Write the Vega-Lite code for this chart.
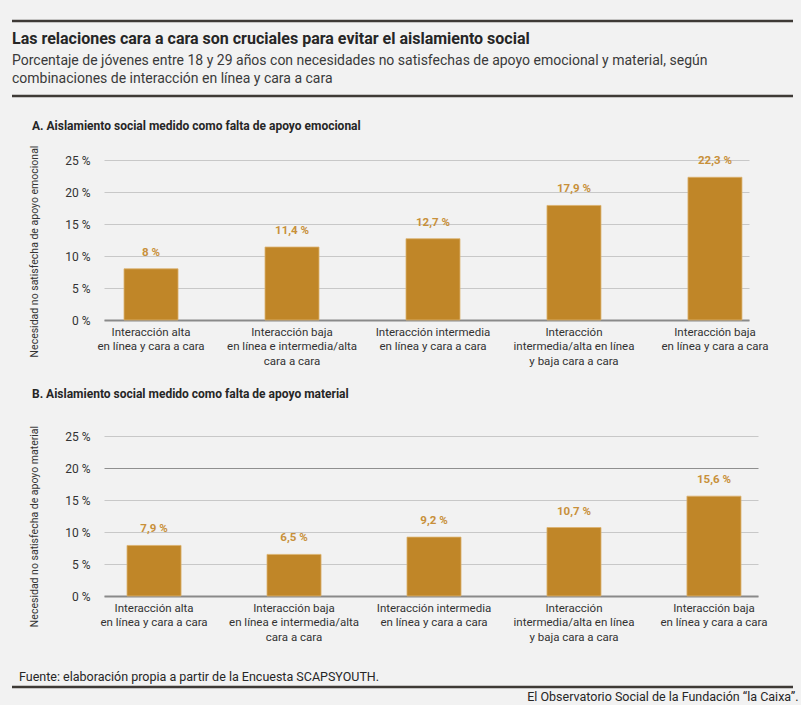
{
  "$schema": "https://vega.github.io/schema/vega-lite/v6.json",
  "background": "#f2f2f2",
  "padding": {"left": 10, "top": 19, "right": 5, "bottom": 2},
  "spacing": 21,
  "resolve": {
    "scale": {"x": "independent", "y": "independent"},
    "axis": {"x": "independent", "y": "independent"}
  },
  "config": {
    "view": {"stroke": null},
    "font": "Roboto",
    "title": {"anchor": "start", "frame": "group", "color": "#262626"},
    "axis": {"labelFont": "Roboto", "titleFont": "Roboto"}
  },
  "datasets": {
    "emocional": [
      {"interaccion": "Interacción alta\nen línea y cara a cara", "valor": 8, "etiqueta": "8 %"},
      {"interaccion": "Interacción baja\nen línea e intermedia/alta\ncara a cara", "valor": 11.4, "etiqueta": "11,4 %"},
      {"interaccion": "Interacción intermedia\nen línea y cara a cara", "valor": 12.7, "etiqueta": "12,7 %"},
      {"interaccion": "Interacción\nintermedia/alta en línea\ny baja cara a cara", "valor": 17.9, "etiqueta": "17,9 %"},
      {"interaccion": "Interacción baja\nen línea y cara a cara", "valor": 22.3, "etiqueta": "22,3 %"}
    ],
    "material": [
      {"interaccion": "Interacción alta\nen línea y cara a cara", "valor": 7.9, "etiqueta": "7,9 %"},
      {"interaccion": "Interacción baja\nen línea e intermedia/alta\ncara a cara", "valor": 6.5, "etiqueta": "6,5 %"},
      {"interaccion": "Interacción intermedia\nen línea y cara a cara", "valor": 9.2, "etiqueta": "9,2 %"},
      {"interaccion": "Interacción\nintermedia/alta en línea\ny baja cara a cara", "valor": 10.7, "etiqueta": "10,7 %"},
      {"interaccion": "Interacción baja\nen línea y cara a cara", "valor": 15.6, "etiqueta": "15,6 %"}
    ]
  },
  "vconcat": [
    {
      "width": 645,
      "height": 78,
      "data": {"values": [{"filete": 1}, {"filete": 0}]},
      "title": {
        "text": "Las relaciones cara a cara son cruciales para evitar el aislamiento social",
        "subtitle": [
          "Porcentaje de jóvenes entre 18 y 29 años con necesidades no satisfechas de apoyo emocional y material, según",
          "combinaciones de interacción en línea y cara a cara"
        ],
        "fontSize": 16,
        "fontWeight": "bold",
        "subtitleFontSize": 14,
        "subtitleColor": "#3a3a3a",
        "subtitlePadding": 7,
        "subtitleLineHeight": 18,
        "dx": -92,
        "offset": -66
      },
      "mark": {"type": "rule", "color": "#3e3a36", "strokeWidth": 2.5, "clip": false},
      "encoding": {
        "x": {"datum": 0, "type": "quantitative", "scale": {"domain": [0, 1], "range": [-92, 689]}, "axis": null},
        "x2": {"datum": 1},
        "y": {"field": "filete", "type": "quantitative", "scale": {"domain": [-0.04, 1]}, "axis": null}
      }
    },
    {
      "width": 645,
      "height": 160,
      "data": {"name": "emocional"},
      "title": {
        "text": "A. Aislamiento social medido como falta de apoyo emocional",
        "fontSize": 12,
        "fontWeight": "bold",
        "dx": -72,
        "offset": 12
      },
      "encoding": {
        "x": {
          "field": "interaccion",
          "type": "nominal",
          "sort": null,
          "scale": {"paddingInner": 0.617, "paddingOuter": 0.096, "align": 0.74},
          "axis": {
            "title": null,
            "labelAngle": 0,
            "labelExpr": "split(datum.label, '\\n')",
            "labelFontSize": 11.5,
            "labelColor": "#333333",
            "labelLineHeight": 14.5,
            "labelPadding": 6,
            "labelBaseline": "top",
            "ticks": false,
            "domainColor": "#8a8a8a",
            "domainWidth": 2
          }
        },
        "y": {
          "field": "valor",
          "type": "quantitative",
          "scale": {"domain": [0, 25]},
          "axis": {
            "title": "Necesidad no satisfecha de apoyo emocional",
            "values": [0, 5, 10, 15, 20, 25],
            "labelExpr": "datum.value + ' %'",
            "domain": false,
            "ticks": false,
            "labelPadding": 14,
            "labelFontSize": 12,
            "labelColor": "#333333",
            "gridColor": "#c8c8c8",
            "titleFontSize": 10.5,
            "titleFontWeight": "normal",
            "titleColor": "#333333",
            "titlePadding": 25,
            "titleY": 91
          }
        }
      },
      "layer": [
        {"mark": {"type": "bar", "color": "#c08628", "stroke": "#dcb26e", "strokeWidth": 0.8}},
        {
          "mark": {"type": "text", "fontWeight": "bold", "fontSize": 11.5, "color": "#c8903a", "baseline": "middle", "dy": -16},
          "encoding": {"text": {"field": "etiqueta"}}
        }
      ]
    },
    {
      "width": 654,
      "height": 160,
      "data": {"name": "material"},
      "title": {
        "text": "B. Aislamiento social medido como falta de apoyo material",
        "fontSize": 12,
        "fontWeight": "bold",
        "dx": -72,
        "offset": 24
      },
      "encoding": {
        "x": {
          "field": "interaccion",
          "type": "nominal",
          "sort": null,
          "scale": {"paddingInner": 0.614, "paddingOuter": 0.143, "align": 0.575},
          "axis": {
            "title": null,
            "labelAngle": 0,
            "labelExpr": "split(datum.label, '\\n')",
            "labelFontSize": 11.5,
            "labelColor": "#333333",
            "labelLineHeight": 14.5,
            "labelPadding": 6,
            "labelBaseline": "top",
            "ticks": false,
            "domainColor": "#8a8a8a",
            "domainWidth": 2
          }
        },
        "y": {
          "field": "valor",
          "type": "quantitative",
          "scale": {"domain": [0, 25]},
          "axis": {
            "title": "Necesidad no satisfecha de apoyo material",
            "values": [0, 5, 10, 15, 20, 25],
            "labelExpr": "datum.value + ' %'",
            "domain": false,
            "ticks": false,
            "labelPadding": 14,
            "labelFontSize": 12,
            "labelColor": "#333333",
            "gridColor": {"condition": {"test": "datum.value === 20", "value": "#8f8f8f"}, "value": "#c8c8c8"},
            "titleFontSize": 10.5,
            "titleFontWeight": "normal",
            "titleColor": "#333333",
            "titlePadding": 25,
            "titleY": 90
          }
        }
      },
      "layer": [
        {"mark": {"type": "bar", "color": "#c08628", "stroke": "#dcb26e", "strokeWidth": 0.8}},
        {
          "mark": {"type": "text", "fontWeight": "bold", "fontSize": 11.5, "color": "#c8903a", "baseline": "middle", "dy": -16},
          "encoding": {"text": {"field": "etiqueta"}}
        }
      ]
    },
    {
      "width": 645,
      "height": 23,
      "data": {"values": [{"filete": 0}]},
      "title": {
        "text": "Fuente: elaboración propia a partir de la Encuesta SCAPSYOUTH.",
        "fontSize": 12.5,
        "fontWeight": "normal",
        "dx": -85,
        "offset": -19
      },
      "mark": {"type": "rule", "color": "#3e3a36", "strokeWidth": 2.5},
      "encoding": {
        "x": {
          "datum": 0,
          "type": "quantitative",
          "scale": {"domain": [0, 1], "range": [-92, 689]},
          "axis": {
            "title": "El Observatorio Social de la Fundación “la Caixa”.",
            "labels": false,
            "ticks": false,
            "domain": false,
            "grid": false,
            "titleFontSize": 12.5,
            "titleFontWeight": "normal",
            "titleColor": "#262626",
            "titleAnchor": "end",
            "titleAlign": "right",
            "titleX": 694,
            "titlePadding": 3
          }
        },
        "x2": {"datum": 1},
        "y": {"field": "filete", "type": "quantitative", "scale": {"domain": [0, 1]}, "axis": null}
      }
    }
  ]
}
